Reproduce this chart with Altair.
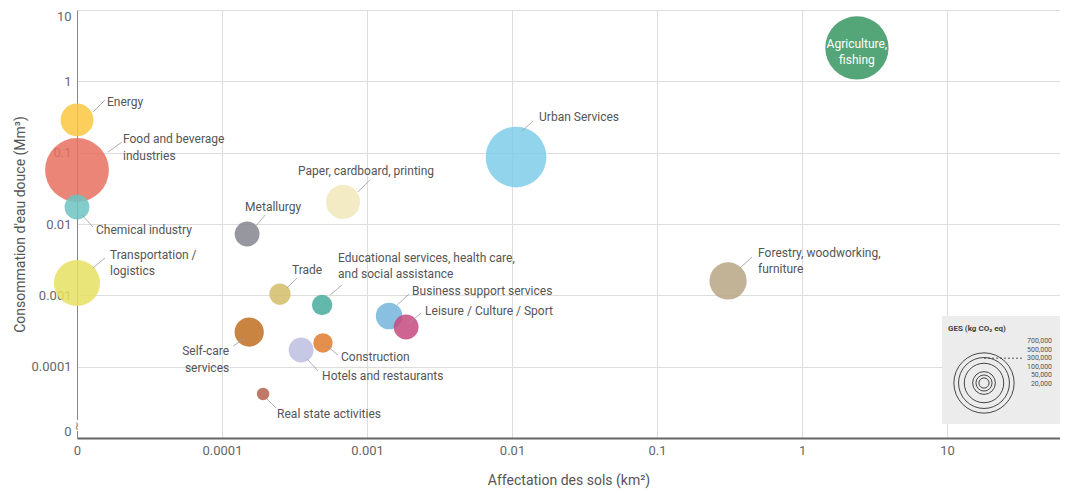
import math
import altair as alt
import pandas as pd

# ---------------- data ----------------
sectors = [
    "Energy", "Food and beverage industries", "Chemical industry",
    "Transportation / logistics", "Metallurgy", "Paper, cardboard, printing",
    "Urban Services", "Agriculture, fishing", "Forestry, woodworking, furniture",
    "Trade", "Educational services, health care, and social assistance",
    "Business support services", "Self-care services", "Construction",
    "Hotels and restaurants", "Real state activities", "Leisure / Culture / Sport",
]
labels = [
    "Energy", "Food and beverage\nindustries", "Chemical industry",
    "Transportation /\nlogistics", "Metallurgy", "Paper, cardboard, printing",
    "Urban Services", "Agriculture,\nfishing", "Forestry, woodworking,\nfurniture",
    "Trade", "Educational services, health care,\nand social assistance",
    "Business support services", "Self-care\nservices", "Construction",
    "Hotels and restaurants", "Real state activities", "Leisure / Culture / Sport",
]
land_km2 = [0, 0, 0, 0, 0.000149, 0.000683, 0.01066, 2.39, 0.309,
            0.000251, 0.00049, 0.00142, 0.000154, 0.000497, 0.000351, 0.000192, 0.00186]
water_mm3 = [0.287, 0.0571, 0.0173, 0.00149, 0.00724, 0.0204, 0.0869, 2.94, 0.00159,
             0.00104, 0.000733, 0.000513, 0.000306, 0.000215, 0.000171, 0.0000414, 0.00036]
ges_kg = [207000, 785000, 119000, 409000, 119000, 225000, 712000, 772000, 267000,
          87000, 80000, 136000, 165000, 73000, 119000, 30000, 119000]
colors = ["#FBC63F", "#E8705F", "#6CC4C2", "#E6E160", "#85858E", "#F0E8B8",
          "#80CDEA", "#36955F", "#B9A684", "#D2BC68", "#45AC9C", "#74B5DC",
          "#BE6E1E", "#E07B2E", "#BDBDE2", "#B5604E", "#C4497F"]

legend_values = [700000, 500000, 300000, 100000, 50000, 20000]
legend_text = ["700,000", "500,000", "300,000", "100,000", "50,000", "20,000"]

x_ticks = [0.00001, 0.0001, 0.001, 0.01, 0.1, 1, 10]
y_ticks = [0.00001, 0.0001, 0.001, 0.01, 0.1, 1, 10]

# ---------------- layout ----------------
W, H = 983, 428
XMIN, XMAX = 0.00001, 60.1
YMIN, YMAX = 0.00001, 10
PXX = W / math.log10(XMAX / XMIN)
PXY = H / math.log10(YMAX / YMIN)

# label offsets from bubble centre (px): first-line dx, dy, align, leader start, leader end
lab_off = [
    (30, -18, "left", (16, -8), (28, -20)),
    (46, -31, "left", (31, -18), (45, -28)),
    (19, 23, "left", (5, 8), (16, 20)),
    (33, -28, "left", (16, -15), (28, -25)),
    (-2, -27, "left", (8, -7), (18, -19)),
    (-45, -31, "left", (15, -10), (27, -22)),
    (23, -40, "left", (6, -26), (17, -36)),
    (0, -4, "center", None, None),
    (30, -28, "left", (12, -13), (24, -24)),
    (12, -24, "left", (7, -6), (17, -16)),
    (16, -47, "left", (8, -10), (20, -20)),
    (23, -25, "left", (8, -11), (20, -22)),
    (-20, 19, "right", (-16, 14), (-4, 6)),
    (18, 14, "left", (4, 3), (15, 12)),
    (21, 26, "left", (6, 9), (17, 21)),
    (14, 20, "left", (4, 5), (13, 14)),
    (19, -16, "left", (3, -4), (15, -14)),
]


def shift(xv, yv, dx, dy):
    return xv * 10 ** (dx / PXX), yv * 10 ** (-dy / PXY)


rows, lead = [], []
for i, s in enumerate(sectors):
    xp = max(land_km2[i], XMIN)
    yp = max(water_mm3[i], YMIN)
    dx, dy, al, a, b = lab_off[i]
    lx, ly = shift(xp, yp, dx, dy)
    rows.append(dict(idx=i, sector=s, label=labels[i], land=land_km2[i], water=water_mm3[i],
                     xp=xp, yp=yp, ges=ges_kg[i], lx=lx, ly=ly, align=al))
    if a is not None:
        x1, y1 = shift(xp, yp, *a)
        x2, y2 = shift(xp, yp, *b)
        lead.append(dict(x1=x1, y1=y1, x2=x2, y2=y2))

df = pd.DataFrame(rows)
lead_df = pd.DataFrame(lead)

FONT = "Roboto"
xscale = alt.Scale(type="log", domain=[XMIN, XMAX], nice=False)
yscale = alt.Scale(type="log", domain=[YMIN, YMAX], nice=False)
R_MAX = 34
size_scale = alt.Scale(type="linear", domain=[0, 700000], range=[0, math.pi * R_MAX ** 2], zero=True)
lab_expr = "datum.value < 2e-5 ? '0' : format(datum.value, '~g')"

base = alt.Chart(df)

bubbles = base.mark_circle(opacity=0.85, stroke=None).encode(
    x=alt.X("xp:Q", scale=xscale,
            axis=alt.Axis(values=x_ticks, labelExpr=lab_expr, title="Affectation des sols (km²)",
                          titlePadding=16, labelPadding=6, domainWidth=2, domainColor="#666",
                          labelFlush=False)),
    y=alt.Y("yp:Q", scale=yscale,
            axis=alt.Axis(values=y_ticks, labelExpr=lab_expr, title="Consommation d'eau douce (Mm³)",
                          titlePadding=4, labelPadding=6, domainColor="#888",
                          labelFlush=True)),
    size=alt.Size("ges:Q", scale=size_scale, legend=None),
    color=alt.Color("sector:N", scale=alt.Scale(domain=sectors, range=colors), legend=None),
    order=alt.Order("idx:Q"),
)

leaders = alt.Chart(lead_df).mark_rule(color="#9a9a9a", strokeWidth=0.8).encode(
    x=alt.X("x1:Q", scale=xscale), y=alt.Y("y1:Q", scale=yscale),
    x2="x2:Q", y2="y2:Q",
)


def text_layer(align, color):
    return base.transform_filter(alt.datum.align == align).mark_text(
        align=align, baseline="middle", font=FONT, fontSize=12, color=color,
        lineBreak="\n", lineHeight=16.5,
    ).encode(x=alt.X("lx:Q", scale=xscale), y=alt.Y("ly:Q", scale=yscale), text="label:N")


txt_left = text_layer("left", "#555555")
txt_right = text_layer("right", "#555555")
txt_center = text_layer("center", "#ffffff")

# axis break marker
brk_bg = alt.Chart(pd.DataFrame({"k": [0]})).mark_rect(color="white").encode(
    x=alt.value(-3), x2=alt.value(3), y=alt.value(410), y2=alt.value(421))
brk = alt.Chart(pd.DataFrame({"t": ["≀"]})).mark_text(
    font="DejaVu Sans", fontSize=12, color="#777").encode(
    x=alt.value(0), y=alt.value(416), text="t:N")

# size legend (custom, nested circles)
leg_df = pd.DataFrame({"v": legend_values, "t": legend_text, "i": list(range(len(legend_values)))})
LX0, LY0 = 865, 306
leg_box = alt.Chart(pd.DataFrame({"k": [0]})).mark_rect(color="#ececec").encode(
    x=alt.value(LX0), x2=alt.value(W), y=alt.value(LY0), y2=alt.value(LY0 + 108))
leg_title = alt.Chart(pd.DataFrame({"t": ["GES (kg CO₂ eq)"]})).mark_text(
    align="left", baseline="middle", font=FONT, fontSize=8, fontWeight="bold", color="#444").encode(
    x=alt.value(LX0 + 6), y=alt.value(LY0 + 13), text="t:N")
leg_circles = alt.Chart(leg_df).mark_circle(filled=False, stroke="#333", strokeWidth=0.9, opacity=1).encode(
    x=alt.value(LX0 + 42), y=alt.value(LY0 + 67),
    size=alt.Size("v:Q", scale=size_scale, legend=None),
)
leg_labels = alt.Chart(leg_df).transform_calculate(
    ly=f"{LY0 + 25} + datum.i * 8.6").mark_text(
    align="right", baseline="middle", font=FONT, fontSize=7, color="#555").encode(
    x=alt.value(LX0 + 110), y=alt.Y("ly:Q", scale=None), text="t:N")
leg_dash = alt.Chart(pd.DataFrame({"k": [0]})).mark_rule(
    color="#333", strokeDash=[2, 2], strokeWidth=0.8).encode(
    x=alt.value(LX0 + 42), x2=alt.value(LX0 + 82), y=alt.value(LY0 + 25 + 2 * 8.6))

chart = alt.layer(
    bubbles, leaders, txt_left, txt_right, txt_center, brk_bg, brk,
    leg_box, leg_title, leg_circles, leg_dash, leg_labels,
).properties(
    width=W, height=H,
    autosize=alt.AutoSizeParams(type="none"),
    padding={"left": 69, "top": 2, "right": 0, "bottom": 56},
).configure_view(stroke=None).configure_axis(
    labelFont=FONT, labelFontSize=13, labelColor="#666",
    titleFont=FONT, titleFontSize=14, titleColor="#555", titleFontWeight="normal",
    gridColor="#dddddd", gridWidth=1, ticks=False,
)

chart.save("out.html", embed_options={"renderer": "svg", "actions": False})
